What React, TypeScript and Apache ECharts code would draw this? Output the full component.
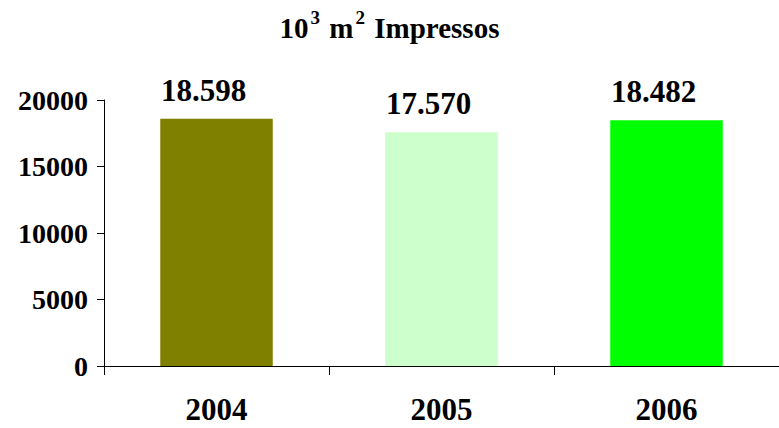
import React, { useEffect, useRef } from "react";
import * as echarts from "echarts";

const categories = ["2004", "2005", "2006"];
const values = [18598, 17570, 18482];
const valueLabels = ["18.598", "17.570", "18.482"];
const barColors = ["#808000", "#CCFFCC", "#00FF00"];
const yMin = 0;
const yMax = 20000;
const yInterval = 5000;

const FONT = '"Liberation Serif", "Times New Roman", serif';

export default function App() {
  const ref = useRef<HTMLDivElement>(null);
  useEffect(() => {
    if (!ref.current) return;
    const chart = echarts.init(ref.current, null, { renderer: "svg" });
    chart.setOption({
      animation: false,
      backgroundColor: "#ffffff",
      textStyle: { fontFamily: FONT },
      title: {
        left: "center",
        top: 3,
        text: "{a|10}{s|3}{a| m}{s|2}{a| Impressos}",
        textStyle: {
          fontFamily: FONT,
          fontWeight: "bold",
          fontSize: 29,
          color: "#000",
          rich: {
            a: { fontFamily: FONT, fontWeight: "bold", fontSize: 29, color: "#000", lineHeight: 34, verticalAlign: "bottom" },
            s: { fontFamily: FONT, fontWeight: "bold", fontSize: 19, color: "#000", lineHeight: 34, verticalAlign: "top", padding: [0, 2, 0, 2] },
          },
        },
      },
      grid: { left: 104, top: 100, height: 266, right: -13, containLabel: false },
      xAxis: {
        type: "category",
        data: categories,
        boundaryGap: true,
        axisLine: { show: true, lineStyle: { color: "#000", width: 1 } },
        axisTick: { show: true, length: 9, lineStyle: { color: "#000" } },
        axisLabel: { margin: 28, fontFamily: FONT, fontWeight: "bold", fontSize: 31, color: "#000" },
      },
      yAxis: {
        type: "value",
        min: yMin,
        max: yMax,
        interval: yInterval,
        splitLine: { show: false },
        axisLine: { show: true, lineStyle: { color: "#000", width: 1 } },
        axisTick: { show: true, length: 7, lineStyle: { color: "#000" } },
        axisLabel: {
          margin: 16,
          fontFamily: FONT,
          fontWeight: "bold",
          fontSize: 28,
          color: "#000",
          formatter: (v: number) => String(v),
        },
      },
      series: [
        {
          type: "bar",
          barWidth: "50%",
          data: values.map((v, i) => ({
            value: v,
            itemStyle: { color: barColors[i] },
            label: { formatter: valueLabels[i] },
          })),
          label: {
            show: true,
            position: "top",
            distance: 13,
            offset: [-13, 0],
            fontFamily: FONT,
            fontWeight: "bold",
            fontSize: 31,
            color: "#000",
          },
        },
      ],
    });
    return () => chart.dispose();
  }, []);
  return <div ref={ref} style={{ position: "fixed", left: 0, top: 0, width: 779, height: 428 }} />;
}
